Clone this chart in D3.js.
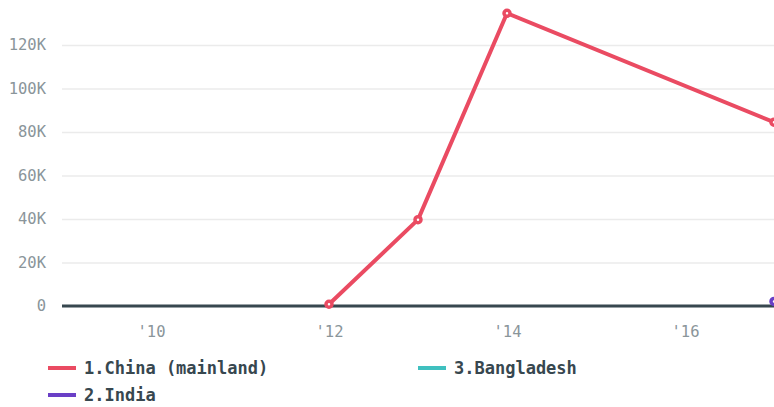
<!DOCTYPE html>
<html>
<head>
<meta charset="utf-8">
<script src="https://cdn.jsdelivr.net/npm/d3@7"></script>
<style>
  body { margin: 0; background: #fff; }
  svg { display: block; }
</style>
</head>
<body>
<svg id="chart" width="774" height="407"></svg>
<script>
const seriesNames = ['1.China (mainland)', '2.India', '3.Bangladesh'];
const seriesColors = ['#ea4b62', '#6a3fc6', '#3fc0bf'];
const chinaYears = [2012, 2013, 2014, 2017];
const chinaValues = [800, 39700, 134600, 84500];
const indiaYears = [2017];
const indiaValues = [2100];
const bangladeshYears = [];
const bangladeshValues = [];
const yTicks = [0, 20000, 40000, 60000, 80000, 100000, 120000];
const xTicks = [2010, 2012, 2014, 2016];

const series = [
    { name: seriesNames[0], color: seriesColors[0], pts: chinaYears.map((y, i) => ({ year: y, value: chinaValues[i] })) },
    { name: seriesNames[1], color: seriesColors[1], pts: indiaYears.map((y, i) => ({ year: y, value: indiaValues[i] })) },
    { name: seriesNames[2], color: seriesColors[2], pts: bangladeshYears.map((y, i) => ({ year: y, value: bangladeshValues[i] })) }
];

const svg = d3.select('#chart');
const plotLeft = 62, plotRight = 774, plotTop = 1.5, plotBottom = 306;

const x = d3.scaleLinear().domain([2009, 2017]).range([plotLeft, plotRight]);
const y = d3.scaleLinear().domain([0, 140000]).range([plotBottom, plotTop]);

// grid + y labels
const yAxis = svg.append('g').attr('transform', `translate(${plotLeft},0)`)
    .call(d3.axisLeft(y).tickValues(yTicks).tickSize(-(plotRight - plotLeft))
        .tickFormat(d => d === 0 ? '0' : (d / 1000) + 'K'));
yAxis.select('.domain').remove();
yAxis.selectAll('.tick line').attr('stroke', '#ebebeb').attr('stroke-width', 1.5);
yAxis.selectAll('.tick text')
    .attr('x', -16)
    .attr('fill', '#8a959a')
    .style('font-family', '"DejaVu Sans Mono", monospace')
    .style('font-size', '15.5px');

// x labels
const xAxis = svg.append('g').attr('transform', `translate(0,${plotBottom})`)
    .call(d3.axisBottom(x).tickValues(xTicks).tickSize(0)
        .tickFormat(d => "'" + String(d).slice(2)));
xAxis.select('.domain').remove();
xAxis.selectAll('.tick text')
    .attr('y', 20)
    .attr('fill', '#8a959a')
    .style('font-family', '"DejaVu Sans Mono", monospace')
    .style('font-size', '15.5px');

// baseline
svg.append('line')
    .attr('x1', plotLeft).attr('x2', plotRight)
    .attr('y1', y(0)).attr('y2', y(0))
    .attr('stroke', '#37474f').attr('stroke-width', 3);

const line = d3.line().x(d => x(d.year)).y(d => y(d.value));

series.forEach(s => {
    if (!s.pts.length) return;
    svg.append('path')
        .datum(s.pts)
        .attr('fill', 'none')
        .attr('stroke', s.color)
        .attr('stroke-width', 4)
        .attr('stroke-linejoin', 'round')
        .attr('d', line);
    svg.selectAll(null)
        .data(s.pts)
        .enter().append('circle')
        .attr('cx', d => x(d.year))
        .attr('cy', d => y(d.value))
        .attr('r', 3)
        .attr('fill', '#fff')
        .attr('stroke', s.color)
        .attr('stroke-width', 3.5);
});

// legend
const legendPos = [[48, 368], [48, 395], [418, 368]];
series.forEach((s, i) => {
    const [lx, ly] = legendPos[i];
    const g = svg.append('g').attr('transform', `translate(${lx},${ly})`);
    g.append('line').attr('x1', 0).attr('x2', 28).attr('y1', 0).attr('y2', 0)
        .attr('stroke', s.color).attr('stroke-width', 4);
    g.append('text').attr('x', 36).attr('y', 0).attr('dy', '0.35em')
        .attr('fill', '#37474f')
        .style('font-family', '"DejaVu Sans Mono", monospace')
        .style('font-weight', 'bold')
        .style('font-size', '17px')
        .text(s.name);
});
</script>
</body>
</html>
